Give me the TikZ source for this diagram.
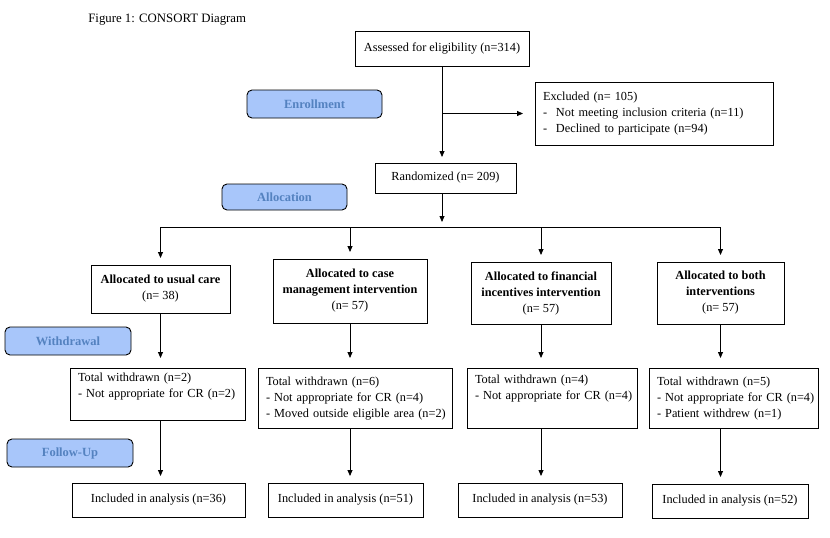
\documentclass[tikz,border=0pt]{standalone}
\usepackage{fontspec}
\setmainfont{Liberation Serif}
\usetikzlibrary{arrows.meta}
\definecolor{phasefill}{RGB}{168,198,250}
\definecolor{phasetext}{RGB}{84,130,192}
\newcommand{\dsh}{\makebox[13pt][l]{-}}
\newcommand{\rows}[1]{\hspace*{8pt}\begin{tabular}{@{}l@{}}#1\end{tabular}}

\begin{document}
\begin{tikzpicture}[x=1pt, y=-1pt,
		box/.style={draw, line width=0.8pt, inner sep=0pt, font=\fontsize{12.3}{16}\selectfont},
		grp/.style={box, align=center},
		lst/.style={box, align=left, anchor=north west},
		phase/.style={draw, line width=0.9pt, rounded corners=5pt, fill=phasefill, text=phasetext,
			font=\fontsize{12.5}{15}\selectfont\bfseries, minimum height=28pt},
		arr/.style={-{Triangle[length=6pt,width=5pt]}, line width=0.8pt},
		every node/.append style={outer sep=0pt}]
		\useasboundingbox (0,0) rectangle (830,538);
		
		\node[anchor=west, font=\fontsize{12.8}{15}\selectfont] (title) at (85,20) {Figure 1: CONSORT Diagram};
		
		% Faserna
		\node[phase, minimum width=135pt] (enroll) at (314.5,104) {Enrollment};
		\node[phase, minimum width=125pt, minimum height=26pt] (allocation) at (284.5,197) {Allocation};
		\node[phase, minimum width=126pt] (withdrawal) at (68,341) {Withdrawal};
		\node[phase, minimum width=126pt] (followup) at (70,453) {Follow-Up};
		
		% Screening
		\node[grp, minimum width=174pt, minimum height=35pt] (assess) at (442,48.5) {Assessed for eligibility (n=314)};
		\node[lst, text width=238pt, minimum height=63pt] (excl) at (535,82) {\rows{Excluded (n= 105)\\
			\dsh Not meeting inclusion criteria (n=11)\\
			\dsh Declined to participate (n=94)}};
		\node[grp, minimum width=141pt, minimum height=30pt] (rand) at (445.5,178) {Randomized (n= 209)};
		\coordinate (bus) at (442,227);
		
		% Grupperna
		\node[grp, minimum width=139pt, minimum height=48pt] (a1) at (160.5,289) {\textbf{Allocated to usual care}\\(n= 38)};
		\node[grp, minimum width=154pt, minimum height=64pt] (a2) at (350,291) {\textbf{Allocated to case}\\\textbf{management intervention}\\(n= 57)};
		\node[grp, minimum width=140pt, minimum height=62pt] (a3) at (541,293) {\textbf{Allocated to financial}\\\textbf{incentives intervention}\\(n= 57)};
		\node[grp, minimum width=127pt, minimum height=62pt] (a4) at (720.5,293) {\textbf{Allocated to both}\\\textbf{interventions}\\(n= 57)};
		
		% Avhopp
		\node[lst, text width=175pt, minimum height=52pt] (w1) at (70,368) {\rows{Total withdrawn (n=2)\\- Not appropriate for CR (n=2)\\~}};
		\node[lst, text width=194pt, minimum height=60pt] (w2) at (258,368) {\rows{Total withdrawn (n=6)\\- Not appropriate for CR (n=4)\\- Moved outside eligible area (n=2)}};
		\node[lst, text width=170pt, minimum height=60pt] (w3) at (467,368) {\rows{Total withdrawn (n=4)\\- Not appropriate for CR (n=4)\\[4pt]~}};
		\node[lst, text width=169pt, minimum height=60pt] (w4) at (649,368) {\rows{Total withdrawn (n=5)\\- Not appropriate for CR (n=4)\\- Patient withdrew (n=1)}};
		
		% Analys
		\node[grp, minimum width=173pt, minimum height=34pt] (i1) at (158.5,500) {Included in analysis (n=36)};
		\node[grp, minimum width=155pt, minimum height=34pt] (i2) at (345.5,500) {Included in analysis (n=51)};
		\node[grp, minimum width=164pt, minimum height=34pt] (i3) at (540,500) {Included in analysis (n=53)};
		\node[grp, minimum width=156pt, minimum height=34pt] (i4) at (730,501) {Included in analysis (n=52)};
		
		% Pilar
		\draw[arr, shorten >=6pt] (bus |- assess.south) -- (bus |- rand.north);
		\draw[arr, shorten >=12pt] (bus |- excl.west) -- (excl.west);
		\draw[arr, shorten >=5pt] (bus |- rand.south) -- (bus);
		\draw[line width=0.8pt] (a1.north |- bus) -- (a4.north |- bus);
		\foreach \g in {1,2,3,4} {
			\draw[arr, shorten >=7pt] (a\g.north |- bus) -- (a\g.north);
			\draw[arr, shorten >=10pt] (a\g.south) -- (a\g.south |- w\g.north);
			\draw[arr, shorten >=7pt] (a\g.south |- w\g.south) -- (a\g.south |- i\g.north);
		}
	\end{tikzpicture}
\end{document}
